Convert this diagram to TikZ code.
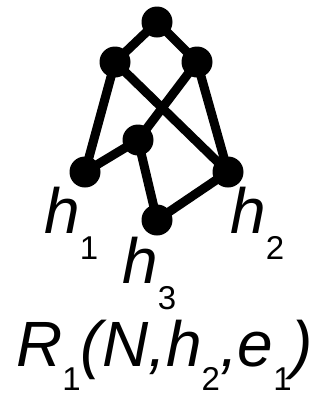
\documentclass[tikz,border=0pt]{standalone}
\usepackage{fontspec}
\setmainfont{Liberation Sans}
\newcommand{\lowsub}[1]{\raisebox{-26pt}{\fontsize{33}{33}\selectfont\upshape #1}}
\newcommand{\lowsubb}[1]{\raisebox{-24pt}{\fontsize{33}{33}\selectfont\upshape #1}}
\begin{document}
\begin{tikzpicture}[x=1pt,y=-1pt,
  dot/.style={circle,fill=black,minimum size=31pt,inner sep=0pt},
  edge/.style={line width=9pt},
  lbl/.style={anchor=base west,inner sep=0pt,font=\fontsize{64}{64}\selectfont\itshape}]
\useasboundingbox (0,0) rectangle (320,397);
\node[dot] (t) at (157,22) {};
\node[dot] (l) at (115,62) {};
\node[dot] (r) at (197,62) {};
\node[dot] (c) at (138,140) {};
\node[dot] (h1) at (85,172) {};
\node[dot] (h2) at (228,172) {};
\node[dot] (h3) at (157,220) {};
\draw[edge] (t.center) -- (l.center);
\draw[edge] (t.center) -- (r.center);
\draw[edge] (l.center) -- (h1.center);
\draw[edge] (l.center) -- (h2.center);
\draw[edge] (r.center) -- (c.center);
\draw[edge] (r.center) -- (h2.center);
\draw[edge] (c.center) -- (h1.center);
\draw[edge] (c.center) -- (h3.center);
\draw[edge] (h3.center) -- (h2.center);
\node[lbl] (l1) at (44,233) {h\lowsub{1}};
\node[lbl] (l2) at (230,233) {h\lowsub{2}};
\node[lbl] (l3) at (122,283) {h\lowsub{3}};
\node[lbl] (rr) at (16,366) {R\lowsubb{1}(N,h\lowsubb{2},e\lowsubb{1})};
\end{tikzpicture}
\end{document}
